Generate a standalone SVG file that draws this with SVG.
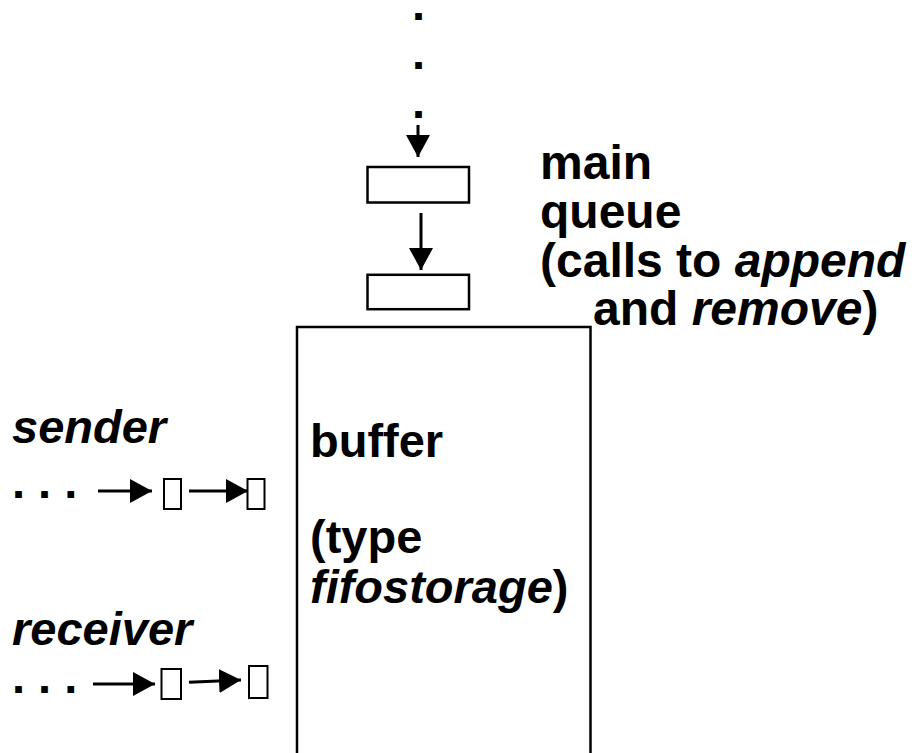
<svg xmlns="http://www.w3.org/2000/svg" width="914" height="753" viewBox="0 0 914 753">
<style>
  .t { font-family: "Liberation Sans", Arial, sans-serif; font-weight: bold; font-size: 47px; fill: #000; }
  .q { font-size: 48px; }
  .i { font-style: italic; }
  .box { fill: #fff; stroke: #000; stroke-width: 2.5; }
  .sbox { fill: #fff; stroke: #000; stroke-width: 2; }
  .conn { stroke: #000; stroke-width: 3; fill: none; marker-end: url(#ah); }
</style>
<defs>
  <marker id="ah" markerUnits="userSpaceOnUse" markerWidth="23" markerHeight="24" refX="22" refY="12" orient="auto">
    <path d="M0,0 L22,12 L0,24 Z" fill="#000"/>
  </marker>
</defs>
<rect width="914" height="753" fill="#fff"/>

<g id="ellipsis-top">
  <text class="t" x="412" y="19.5">.</text>
  <text class="t" x="412" y="68.5">.</text>
  <text class="t" x="412" y="117.5">.</text>
</g>

<g id="queue-box-1"><rect class="box" x="367.5" y="167" width="101.5" height="35.5"/></g>
<g id="queue-box-2"><rect class="box" x="367.5" y="274.8" width="101.5" height="34.4"/></g>

<g id="queue-label">
  <text class="t q" x="540" y="179">main</text>
  <text class="t q" x="540" y="228">queue</text>
  <text class="t q" x="540" y="276.5">(calls to <tspan class="i">append</tspan></text>
  <text class="t q" x="593" y="325">and <tspan class="i">remove</tspan>)</text>
</g>

<g id="buffer">
  <rect class="box" x="297" y="327" width="293.5" height="440"/>
  <text class="t" x="310" y="457">buffer</text>
  <text class="t" x="310" y="553">(type</text>
  <text class="t" x="310" y="603"><tspan class="i">fifostorage</tspan>)</text>
</g>

<g id="sender">
  <text class="t i" x="12" y="443">sender</text>
  <text class="t" x="12" y="498">. . .</text>
  <rect class="sbox" x="164" y="479" width="17" height="30"/>
  <rect class="sbox" x="247.5" y="479" width="17" height="30"/>
</g>

<g id="receiver">
  <text class="t i" x="12" y="645">receiver</text>
  <text class="t" x="12" y="693">. . .</text>
  <rect class="sbox" x="161.5" y="669" width="19.5" height="30"/>
  <rect class="sbox" x="249" y="666" width="18.5" height="32"/>
</g>

<g id="connectors">
  <line class="conn" x1="418" y1="125" x2="418" y2="157"/>
  <line class="conn" x1="421" y1="213" x2="421" y2="270"/>
  <line class="conn" x1="98" y1="491" x2="152" y2="491"/>
  <line class="conn" x1="189" y1="491" x2="248" y2="491"/>
  <line class="conn" x1="93" y1="684" x2="155" y2="684"/>
  <line class="conn" x1="189" y1="682.3" x2="241" y2="680"/>
</g>
</svg>
